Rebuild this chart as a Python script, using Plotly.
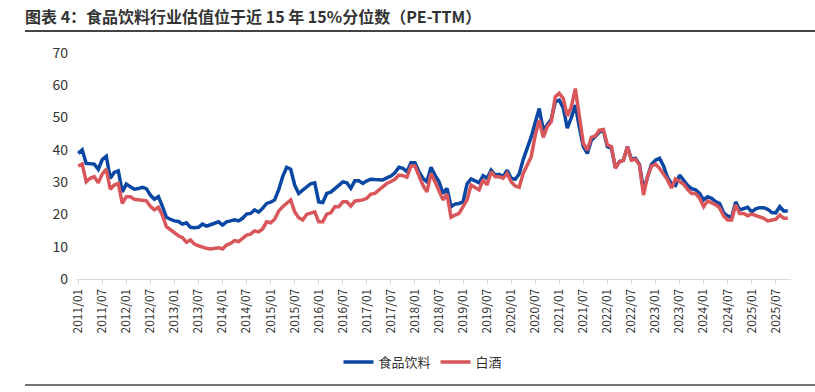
import plotly.graph_objects as go

# Monthly data, 2011/01 .. 2025/10
start_year = 2011
food_bev = [
    38.9, 40.0, 35.8, 35.6, 35.6, 34.0, 37.0, 38.0, 31.2, 33.0, 33.5, 27.0,
    29.4, 28.6, 27.8, 28.0, 28.4, 28.0, 26.0, 24.7, 25.5, 22.5, 19.1, 18.5,
    18.0, 17.8, 17.0, 17.4, 16.0, 15.9, 16.0, 17.0, 16.4, 16.8, 17.4, 17.7,
    16.7, 17.7, 18.0, 18.3, 18.0, 18.8, 20.1, 20.3, 21.4, 20.7, 21.9, 23.4,
    23.8, 24.5, 27.6, 31.7, 34.6, 34.0, 29.1, 26.5, 27.5, 28.6, 29.5, 29.8,
    23.9, 23.7, 26.5, 26.9, 28.1, 29.0, 30.1, 29.8, 28.1, 30.4, 30.4, 29.6,
    30.4, 30.9, 30.8, 30.7, 30.7, 31.3, 31.9, 32.9, 34.6, 34.3, 33.2, 36.0,
    36.0, 33.2, 31.2, 30.1, 34.6, 32.2, 30.1, 26.5, 28.1, 22.4, 23.2, 23.4,
    23.9, 29.5, 31.0, 30.4, 29.8, 32.0, 31.2, 33.7, 32.2, 32.4, 31.7, 33.7,
    31.2, 30.9, 32.5, 37.0, 40.2, 44.0, 48.5, 52.8, 46.1, 48.0, 49.5, 54.9,
    55.4, 53.0, 46.7, 50.0, 53.9, 47.0, 41.0, 38.9, 43.0, 44.1, 45.5, 46.0,
    41.0, 40.5, 34.5, 36.3, 36.8, 41.0, 37.0, 37.4, 35.5, 27.6, 32.0, 35.5,
    36.8, 37.4, 35.0, 31.5, 29.5, 29.0, 32.2, 30.5, 29.0, 28.0, 27.6, 26.5,
    24.5, 25.5, 25.0, 24.0, 23.4, 20.5, 19.5, 19.1, 23.9, 21.4, 21.7, 22.2,
    20.8, 21.7, 22.1, 22.1, 21.6, 20.6, 20.5, 22.4, 21.1, 21.1,
]
baijiu = [
    35.0, 35.6, 30.1, 31.2, 31.7, 29.8, 32.5, 34.0, 27.8, 29.1, 29.6, 23.4,
    25.5, 25.5, 24.7, 24.6, 24.5, 24.2, 22.5, 21.4, 22.2, 19.8, 16.2, 15.2,
    14.2, 13.4, 12.8, 11.4, 12.1, 10.8, 10.3, 9.8, 9.5, 9.3, 9.5, 9.7,
    9.3, 10.5, 11.0, 11.9, 11.6, 12.5, 13.6, 13.9, 14.9, 14.6, 15.5, 17.7,
    17.4, 18.5, 21.0, 22.4, 23.5, 24.5, 20.8, 19.0, 18.3, 20.0, 20.4, 20.8,
    17.7, 17.7, 20.1, 20.5, 22.4, 22.4, 23.9, 23.9, 22.6, 24.1, 24.3, 24.5,
    25.0, 26.3, 26.5, 27.5, 28.6, 29.6, 30.2, 30.9, 32.2, 32.0, 31.5, 35.0,
    35.0, 31.7, 29.0, 27.0, 32.7, 30.1, 27.6, 24.5, 26.3, 19.1, 19.8, 20.3,
    22.4, 24.5, 29.1, 28.5, 27.6, 30.7, 29.1, 33.2, 31.7, 31.7, 31.2, 32.7,
    30.1, 28.8, 28.4, 32.7, 35.5, 37.9, 44.5, 49.2, 43.9, 47.2, 48.7, 56.4,
    57.5, 55.9, 50.5, 53.3, 59.0, 50.0, 42.0, 39.9, 43.9, 44.3, 46.1, 46.3,
    41.5, 41.0, 34.3, 36.3, 36.8, 41.0, 36.8, 37.1, 35.3, 26.0, 31.7, 35.0,
    35.6, 34.3, 32.5, 30.7, 28.2, 31.0, 30.2, 29.4, 27.8, 26.5, 26.5, 25.0,
    22.4, 24.2, 23.6, 23.0, 22.0, 19.5, 18.3, 18.3, 22.9, 20.3, 20.3, 19.6,
    20.1, 19.7, 19.4, 18.8, 18.0, 18.2, 18.5, 19.8, 18.8, 18.8,
]
series_names = ["食品饮料", "白酒"]
title_text = "图表 4：食品饮料行业估值位于近 15 年 15%分位数（PE-TTM）"

n = len(food_bev)
x_idx = list(range(n))
tick_vals = list(range(0, n, 6))
tick_text = [f"{start_year + v // 12}/{v % 12 + 1:02d}" for v in tick_vals]

BLUE = "#0a47a3"
RED = "#d9575a"
FONT = "Noto Sans CJK SC"

fig = go.Figure()
fig.add_trace(go.Scatter(x=x_idx, y=food_bev, name=series_names[0], mode="lines",
                         line=dict(color=BLUE, width=3.5)))
fig.add_trace(go.Scatter(x=x_idx, y=baijiu, name=series_names[1], mode="lines",
                         line=dict(color=RED, width=3.5)))

L, R, T, B = 77, 24, 53, 113
W, H = 815, 392
pw = W - L - R
ph = H - T - B

def px_x(p):
    return (p - L) / pw

def px_y(p):
    return (H - B - p) / ph

fig.update_layout(
    width=W, height=H,
    margin=dict(l=L, r=R, t=T, b=B, pad=0),
    paper_bgcolor="white", plot_bgcolor="white",
    font=dict(family=FONT, color="#333333"),
    title=dict(text=title_text, x=25 / W, xanchor="left", xref="container",
               y=1 - 17 / H, yanchor="middle", yref="container",
               font=dict(family=FONT, size=16, color="#333333", weight="bold")),
    showlegend=True,
    legend=dict(orientation="h", x=px_x(423), xanchor="center",
                y=px_y(362), yanchor="middle",
                font=dict(family=FONT, size=13, color="#333333"),
                itemwidth=30, tracegroupgap=0, bgcolor="rgba(0,0,0,0)"),
    xaxis=dict(range=[-0.3, n - 0.2], tickmode="array", tickvals=tick_vals,
               ticktext=tick_text, tickangle=-90, showgrid=False, zeroline=False,
               showline=True, linecolor="#d9d9d9", linewidth=1,
               ticks="outside", ticklen=4, tickcolor="#d9d9d9",
               tickfont=dict(family=FONT, size=12, color="#333333")),
    yaxis=dict(range=[0, 70], dtick=10, showgrid=False, zeroline=False,
               showline=False, ticks="", ticklabelstandoff=8,
               tickfont=dict(family=FONT, size=14, color="#333333")),
    shapes=[
        dict(type="line", xref="paper", yref="paper", x0=px_x(25), x1=px_x(815),
             y0=px_y(31), y1=px_y(31), line=dict(color="#444444", width=2)),
        dict(type="line", xref="paper", yref="paper", x0=px_x(25), x1=px_x(815),
             y0=px_y(385), y1=px_y(385), line=dict(color="#444444", width=1.5)),
    ],
)

fig.write_html("out.html", config={"displayModeBar": False},
               post_script="document.body.style.margin='0';")
